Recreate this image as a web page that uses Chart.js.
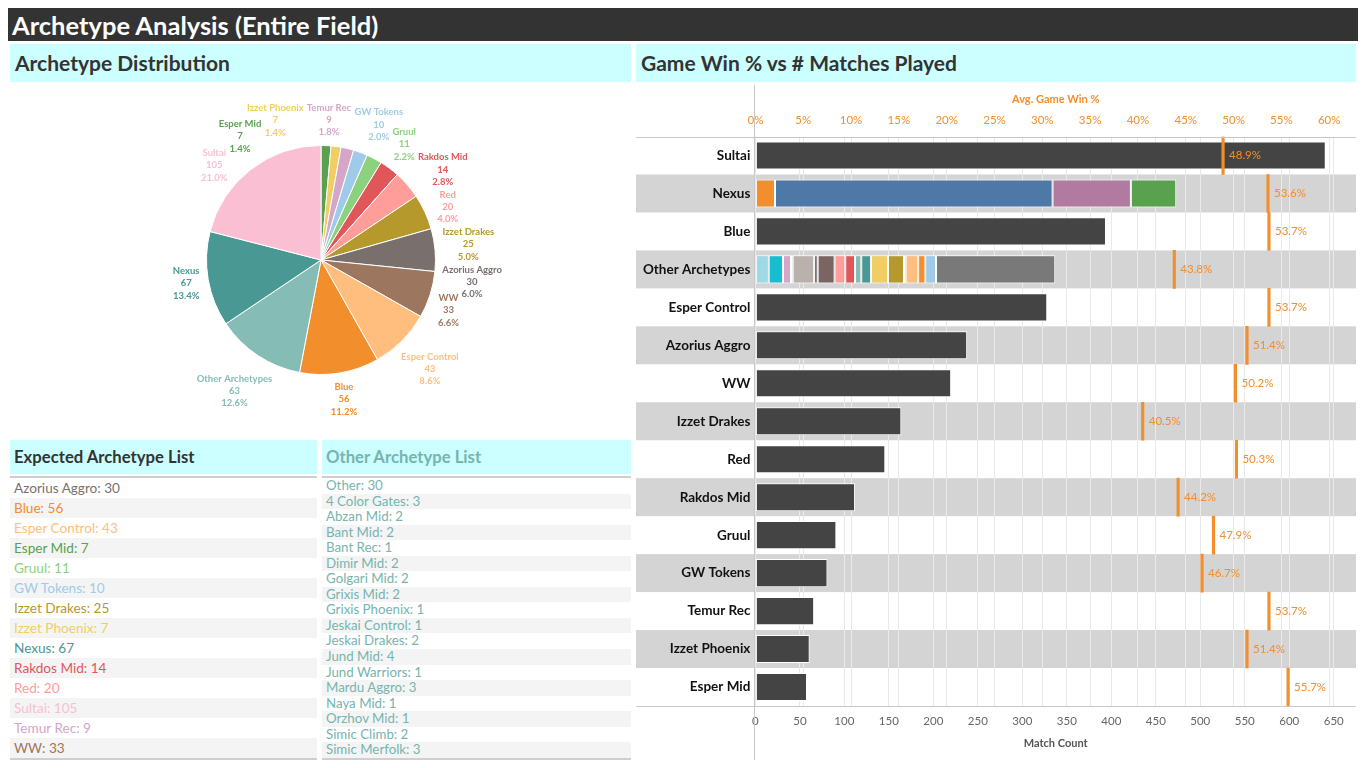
<!DOCTYPE html>
<html>
<head>
<meta charset="utf-8">
<script src="https://cdn.jsdelivr.net/npm/chart.js@4.4.0/dist/chart.umd.min.js"></script>
<style>
  body { margin: 0; background: #fff; font-family: Lato, "Noto Sans", sans-serif; width: 1366px; height: 768px; position: relative; overflow: hidden; }
  .abs { position: absolute; }
  #title { left: 8px; top: 8px; width: 1346px; height: 33px; background: #333; color: #fff; font: bold 25.5px Lato; line-height: 34px; padding-left: 4px; }
  .head { background: #ccffff; color: #333; font: bold 21px Lato; line-height: 38px; padding-left: 5px; box-sizing: border-box; }
  .thead { background: #ccffff; color: #333; font: bold 16.7px Lato; line-height: 34px; padding-left: 4px; box-sizing: border-box; border-bottom: 3px solid #fff; }
  .tbl { border-top: 2px solid #cfcfcf; border-bottom: 2px solid #cfcfcf; box-sizing: border-box; }
  .row { padding-left: 4px; white-space: nowrap; }
  .row:nth-child(even) { background: #f4f4f4; }
</style>
</head>
<body>
<div id="title" class="abs">Archetype Analysis (Entire Field)</div>
<div class="abs head" style="left:10px;top:44px;width:621px;height:38px;">Archetype Distribution</div>
<div class="abs head" style="left:636px;top:44px;width:720px;height:38px;">Game Win % vs # Matches Played</div>

<canvas id="pie" class="abs" width="621" height="350" style="left:10px;top:85px;"></canvas>

<div class="abs thead" style="left:10px;top:440px;width:307px;height:37px;">Expected Archetype List</div>
<div id="expList" class="abs tbl" style="left:10px;top:476px;width:307px;height:284px;"></div>
<div class="abs thead" style="left:322px;top:440px;width:309px;height:37px;color:#76b4ae;">Other Archetype List</div>
<div id="othList" class="abs tbl" style="left:322px;top:476px;width:309px;height:284px;"></div>

<canvas id="bars" class="abs" width="720" height="675" style="left:636px;top:85px;"></canvas>

<script>
// ---- pie: archetype counts (ascending, as drawn clockwise from 12 o'clock)
const pieNames  = ['Esper Mid', 'Izzet Phoenix', 'Temur Rec', 'GW Tokens', 'Gruul', 'Rakdos Mid', 'Red',
                   'Izzet Drakes', 'Azorius Aggro', 'WW', 'Esper Control', 'Blue', 'Other Archetypes', 'Nexus', 'Sultai'];
const pieCounts = [7, 7, 9, 10, 11, 14, 20, 25, 30, 33, 43, 56, 63, 67, 105];

// ---- other archetype list
const otherNames  = ['Other', '4 Color Gates', 'Abzan Mid', 'Bant Mid', 'Bant Rec', 'Dimir Mid', 'Golgari Mid', 'Grixis Mid',
                     'Grixis Phoenix', 'Jeskai Control', 'Jeskai Drakes', 'Jund Mid', 'Jund Warriors', 'Mardu Aggro',
                     'Naya Mid', 'Orzhov Mid', 'Simic Climb', 'Simic Merfolk'];
const otherCounts = [30, 3, 2, 2, 1, 2, 2, 2, 1, 1, 2, 4, 1, 3, 1, 1, 2, 3];
const otherMatches = [134, 15, 16, 9, 2, 24, 4, 19, 12, 11, 7, 11, 19, 18, 2, 14, 8, 12];

// ---- win % vs matches
const barNames   = ['Sultai', 'Nexus', 'Blue', 'Other Archetypes', 'Esper Control', 'Azorius Aggro', 'WW', 'Izzet Drakes',
                    'Red', 'Rakdos Mid', 'Gruul', 'GW Tokens', 'Temur Rec', 'Izzet Phoenix', 'Esper Mid'];
const barMatches = [641, null, 394, null, 328, 238, 220, 164, 146, 112, 91, 81, 66, 61, 58];
const winPct     = [48.9, 53.6, 53.7, 43.8, 53.7, 51.4, 50.2, 40.5, 50.3, 44.2, 47.9, 46.7, 53.7, 51.4, 55.7];
const nexusParts       = ['Nexus 1', 'Nexus 2', 'Nexus 3', 'Nexus 4'];
const nexusPartMatches = [22, 312, 88, 51];

const xTicksMatch = { min: 0, max: 675, step: 50 };
const xTicksWin   = { min: 0, max: 62.8, step: 5 };

// colours
const archColor = {
  'Esper Mid': '#59a14f', 'Izzet Phoenix': '#f1ce63', 'Temur Rec': '#d4a6c8', 'GW Tokens': '#a0cbe8', 'Gruul': '#8cd17d',
  'Rakdos Mid': '#e15759', 'Red': '#ff9d9a', 'Izzet Drakes': '#b6992d', 'Azorius Aggro': '#79706e', 'WW': '#9d7660',
  'Esper Control': '#ffbe7d', 'Blue': '#f28e2b', 'Other Archetypes': '#86bcb6', 'Nexus': '#499894', 'Sultai': '#fabfd2'
};
const otherColors = ['#797979', '#9edae5', '#17becf', '#d4a6c8', '#fabfd2', '#bab0ac', '#6b6766', '#7b6562', '#ff9d9a',
                     '#e15759', '#86bcb6', '#499894', '#f1ce63', '#b6992d', '#8cd17d', '#ffbe7d', '#f28e2b', '#a0cbe8'];
const nexusColors = ['#f28e2b', '#4e79a7', '#b07aa1', '#59a14f'];
const ORANGE = '#f28e2b';

// ---- tables
const expRows = pieNames.filter(n => n !== 'Other Archetypes')
  .map(n => ({ n, c: pieCounts[pieNames.indexOf(n)] }))
  .sort((a, b) => a.n.localeCompare(b.n, 'en', { sensitivity: 'base' }));
document.getElementById('expList').innerHTML = expRows.map(r =>
  `<div class="row" style="font-size:13.6px;height:20px;line-height:20px;color:${archColor[r.n]}">${r.n}: ${r.c}</div>`).join('');
document.getElementById('othList').innerHTML = otherNames.map((n, i) =>
  `<div class="row" style="font-size:13.3px;height:15.55px;line-height:15.55px;color:#76b4ae">${n}: ${otherCounts[i]}</div>`).join('');

// ---- pie labels, spread apart round the rim so they don't collide
const pieLabels = {
  id: 'pieLabels',
  afterDatasetsDraw(chart) {
    const ctx = chart.ctx;
    const arcs = chart.getDatasetMeta(0).data;
    const vals = chart.data.datasets[0].data;
    const total = vals.reduce((a, b) => a + b, 0);
    const lh = 12.4, gap = 6;
    ctx.save();
    ctx.font = 'bold 9.5px Lato';
    const items = arcs.map((arc, i) => {
      const p = arc.getProps(['x', 'y', 'startAngle', 'endAngle', 'outerRadius'], true);
      const lines = [chart.data.labels[i], String(vals[i]), (vals[i] / total * 100).toFixed(1) + '%'];
      return { p, lines, widths: lines.map(t => ctx.measureText(t).width), a: (p.startAngle + p.endAngle) / 2,
               color: archColor[chart.data.labels[i]] };
    });
    const place = it => {
      const w = Math.max(...it.widths), h = lh * 3;
      const c = Math.cos(it.a), s = Math.sin(it.a);
      const d = it.p.outerRadius + gap + Math.abs(c) * w / 2 + Math.abs(s) * h / 2;
      it.cx = it.p.x + c * d; it.cy = it.p.y + s * d;
      it.boxes = it.lines.map((t, k) => ({ x0: it.cx - it.widths[k] / 2, x1: it.cx + it.widths[k] / 2,
                                          y0: it.cy - h / 2 + k * lh, y1: it.cy - h / 2 + (k + 1) * lh }));
    };
    const hit = (A, B) => A.boxes.some(a => B.boxes.some(b => a.x0 < b.x1 + 3 && b.x0 < a.x1 + 3 && a.y0 < b.y1 && b.y0 < a.y1));
    items.forEach(place);
    const n = items.length;
    for (let iter = 0; iter < 600; iter++) {
      let moved = false;
      for (let i = 0; i < n; i++) {
        for (let k = 1; k <= 2; k++) {
          const A = items[i], B = items[(i + k) % n];
          if (hit(A, B)) { A.a -= 0.004; B.a += 0.004; place(A); place(B); moved = true; }
        }
      }
      if (!moved) break;
    }
    ctx.textAlign = 'center';
    ctx.textBaseline = 'middle';
    items.forEach(it => {
      ctx.fillStyle = it.color;
      it.lines.forEach((t, k) => ctx.fillText(t, it.cx, it.cy - lh * 1.5 + lh * (k + 0.5)));
    });
    ctx.restore();
  }
};

new Chart(document.getElementById('pie'), {
  type: 'pie',
  data: {
    labels: pieNames,
    datasets: [{ data: pieCounts, backgroundColor: pieNames.map(n => archColor[n]), borderColor: '#fff', borderWidth: 1 }]
  },
  options: {
    responsive: false, animation: false, events: [],
    layout: { padding: { left: 196, right: 195, top: 60, bottom: 60 } },
    plugins: { legend: { display: false }, tooltip: { enabled: false } }
  },
  plugins: [pieLabels]
});

// ---- bar chart datasets
const FONT = 'Lato';
const only = (name, v) => barNames.map(n => (n === name ? v : null));
const datasets = [];
datasets.push({ label: 'Match Count', data: barMatches, backgroundColor: '#444444' });
nexusParts.forEach((p, i) => datasets.push({ label: p, data: only('Nexus', nexusPartMatches[i]), backgroundColor: nexusColors[i] }));
const otherOrder = otherNames.map((n, i) => i).slice(1).concat([0]);
otherOrder.forEach(i => datasets.push({ label: otherNames[i], data: only('Other Archetypes', otherMatches[i]), backgroundColor: otherColors[i] }));
datasets.forEach(d => Object.assign(d, {
  xAxisID: 'x', stack: 'matches', order: 1, borderColor: '#ffffff', borderWidth: 1, borderSkipped: false,
  barPercentage: 0.74, categoryPercentage: 1
}));
datasets.push({
  label: 'Avg. Game Win %', xAxisID: 'x2', order: 0, grouped: false,
  data: winPct.map(v => [v - 0.13, v + 0.13]), backgroundColor: ORANGE, borderWidth: 0,
  barPercentage: 1, categoryPercentage: 1
});

const bands = {
  id: 'bands',
  beforeDraw(chart) {
    const { ctx, scales: { y } } = chart;
    const half = (y.getPixelForValue(1) - y.getPixelForValue(0)) / 2;
    ctx.save();
    ctx.fillStyle = '#d4d4d4';
    chart.data.labels.forEach((l, i) => {
      if (i % 2 === 1) {
        const c = y.getPixelForValue(i);
        ctx.fillRect(0, c - half, chart.width, half * 2);
      }
    });
    ctx.restore();
  },
  afterDatasetsDraw(chart) {
    const { ctx, chartArea: a, scales: { x2, y } } = chart;
    ctx.save();
    ctx.strokeStyle = '#c8c8c8';
    ctx.lineWidth = 1;
    ctx.beginPath();
    ctx.moveTo(0, Math.round(a.top) + 0.5); ctx.lineTo(chart.width, Math.round(a.top) + 0.5);
    ctx.moveTo(0, Math.round(a.bottom) + 0.5); ctx.lineTo(chart.width, Math.round(a.bottom) + 0.5);
    ctx.moveTo(Math.round(a.left) - 0.5, 0); ctx.lineTo(Math.round(a.left) - 0.5, chart.height);
    ctx.stroke();
    ctx.font = '11.5px ' + FONT;
    ctx.fillStyle = ORANGE;
    ctx.textBaseline = 'middle';
    winPct.forEach((v, i) => ctx.fillText(v.toFixed(1) + '%', x2.getPixelForValue(v) + 6, y.getPixelForValue(i)));
    ctx.restore();
  }
};

new Chart(document.getElementById('bars'), {
  type: 'bar',
  data: { labels: barNames, datasets },
  options: {
    indexAxis: 'y', responsive: false, animation: false, events: [],
    layout: { padding: 0 },
    plugins: { legend: { display: false }, tooltip: { enabled: false } },
    scales: {
      y: {
        stacked: true,
        afterFit: s => { s.width = 119.4; },
        grid: { display: false, drawTicks: false }, border: { display: false },
        ticks: { color: '#111', font: { family: FONT, size: 13.5, weight: 'bold' }, padding: 5 }
      },
      x: {
        position: 'bottom', stacked: true, min: xTicksMatch.min, max: xTicksMatch.max,
        afterFit: s => { s.height = 54; },
        grid: { color: '#e9e9e9', drawTicks: false }, border: { display: false },
        ticks: { stepSize: xTicksMatch.step, includeBounds: false, color: '#666', padding: 8, font: { family: FONT, size: 11.5 } },
        title: { display: true, text: 'Match Count', color: '#555', font: { family: FONT, size: 11, weight: 'bold' }, padding: { top: 0, bottom: 10 } }
      },
      x2: {
        position: 'top', min: xTicksWin.min, max: xTicksWin.max,
        afterFit: s => { s.height = 51.5; },
        grid: { color: '#e9e9e9', drawTicks: false }, border: { display: false },
        ticks: { stepSize: xTicksWin.step, includeBounds: false, color: ORANGE, padding: 9,
                 font: { family: FONT, size: 11.5 }, callback: v => v + '%' },
        title: { display: true, text: 'Avg. Game Win %', color: ORANGE, font: { family: FONT, size: 11, weight: 'bold' }, padding: { top: 8, bottom: 0 } }
      }
    }
  },
  plugins: [bands]
});
</script>
</body>
</html>
